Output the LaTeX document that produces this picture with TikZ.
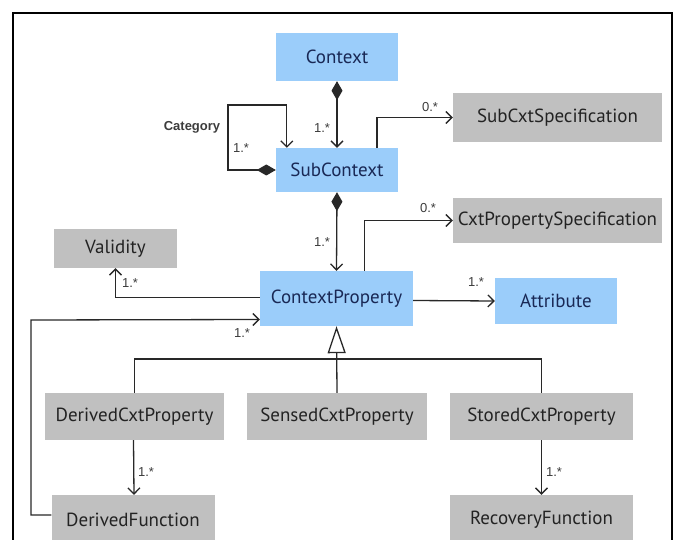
\documentclass[tikz,border=0pt]{standalone}
\usepackage{fontspec}
\usepackage{xcolor}
\usepackage{tikz}
\usetikzlibrary{arrows.meta}
\newfontfamily\boxfont{PT Sans}
\newfontfamily\labelfont{Liberation Sans}
\definecolor{ctxblue}{RGB}{155,205,250}
\definecolor{ctxtext}{RGB}{25,40,85}
\definecolor{boxgrey}{RGB}{192,192,192}
\definecolor{greytext}{RGB}{35,35,35}
\definecolor{linegrey}{RGB}{40,40,40}
\definecolor{labelgrey}{RGB}{60,60,60}
\tikzset{
    classbox/.style = {align=center, inner sep=0pt, text centered, font=\boxfont\fontsize{19}{19}\selectfont},
    blue_box/.style = {classbox, fill=ctxblue, text=ctxtext},
    grey_box/.style = {classbox, fill=boxgrey, text=greytext},
    mult/.style = {inner sep=1pt, text=labelgrey, font=\labelfont\fontsize{13}{13}\selectfont},
    catlabel/.style = {inner sep=1pt, text=labelgrey, font=\labelfont\bfseries\fontsize{13}{13}\selectfont}
}
\tikzset{
    assoc/.style = {line width=1.3pt, draw=linegrey, -{Straight Barb[length=6pt,width=12pt]}},
    comp/.style = {assoc, {Diamond[length=19pt,width=11pt]}-{Straight Barb[length=6pt,width=12pt]}},
    gen/.style = {line width=1.3pt, draw=linegrey, -{Triangle[open,length=27pt,width=18pt,fill=white]}},
    plain/.style = {line width=1.3pt, draw=linegrey}
}
\begin{document}
\begin{tikzpicture}[x=1pt, y=-1pt]
    \clip (0,0) rectangle (678,540);
    \fill[white] (0,0) rectangle (678,540);
    \draw[line width=1.6pt] (13,550) -- (13,13) -- (672,13) -- (672,550);

    % classes
    \node [blue_box, minimum width=122pt, minimum height=48pt] (context) at (337,57) {Context};
    \node [blue_box, minimum width=122pt, minimum height=44pt] (subctx) at (337,170) {SubContext};
    \node [grey_box, minimum width=209pt, minimum height=49pt] (subspec) at (557.5,117.5) {SubCxtSpecification};
    \node [grey_box, minimum width=209pt, minimum height=45pt] (propspec) at (557.5,220.5) {CxtPropertySpecification};
    \node [grey_box, minimum width=123pt, minimum height=39pt] (validity) at (115.5,248.5) {Validity};
    \node [blue_box, minimum width=153pt, minimum height=55pt] (ctxprop) at (336.5,298.5) {ContextProperty};
    \node [blue_box, minimum width=122pt, minimum height=46pt] (attribute) at (556,301) {Attribute};
    \node [grey_box, minimum width=179pt, minimum height=47pt] (dcprop) at (134.5,416.5) {DerivedCxtProperty};
    \node [grey_box, minimum width=180pt, minimum height=47pt] (scprop) at (337,416.5) {SensedCxtProperty};
    \node [grey_box, minimum width=183pt, minimum height=47pt] (stprop) at (541.5,416.5) {StoredCxtProperty};
    \node [grey_box, minimum width=163pt, minimum height=50pt] (dfunc) at (133,520) {DerivedFunction};
    \node [grey_box, minimum width=183pt, minimum height=50pt] (rfunc) at (541.5,520) {RecoveryFunction};

    % corners of the bent connectors
    \coordinate (catcorner) at (228,105);
    \coordinate (loopcorner) at (31,320);
    \coordinate (busjoin) at (337,359);

    % connectors
    \draw [comp] (context.south) -- (subctx.north);
    \draw [comp] (subctx.west) -| (catcorner) -| ([xshift=11pt]subctx.north west);
    \draw [assoc] ([xshift=40pt]subctx.north) |- (subspec.west);
    \draw [comp] (subctx.south) -- (ctxprop.north);
    \draw [assoc] ([xshift=28pt]ctxprop.north) |- (propspec.west);
    \draw [assoc] ([yshift=1pt]ctxprop.west) -| (validity.south);
    \draw [assoc] ([yshift=5pt]dfunc.west) -| (loopcorner) -- ([yshift=-21pt]ctxprop.west);
    \draw [assoc] ([yshift=-2pt]ctxprop.east) -- (attribute.west);
    \draw [plain] (dcprop.north) |- (busjoin);
    \draw [plain] (stprop.north) |- (busjoin);
    \draw [gen] (scprop.north) -- (ctxprop.south);
    \draw [assoc] ([xshift=-1pt]dcprop.south) -- ([xshift=1pt]dfunc.north);
    \draw [assoc] (stprop.south) -- (rfunc.north);

    % multiplicities
    \node [mult] (m1) at (322,128) {1.*};
    \node [catlabel] (cat) at (192,127) {Category};
    \node [mult] (m2) at (241,148) {1.*};
    \node [mult] (m3) at (430,107) {0.*};
    \node [mult] (m4) at (322,242) {1.*};
    \node [mult] (m5) at (428,208) {0.*};
    \node [mult] (m6) at (130,283) {1.*};
    \node [mult] (m7) at (242,333) {1.*};
    \node [mult] (m8) at (476,282) {1.*};
    \node [mult] (m9) at (146,472) {1.*};
    \node [mult] (m10) at (554,472) {1.*};
\end{tikzpicture}
\end{document}
